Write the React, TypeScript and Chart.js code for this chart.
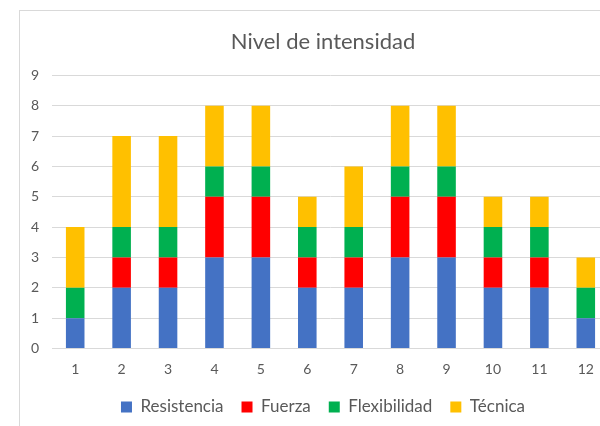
import React, { useEffect, useRef } from "react";
import { Chart, registerables } from "chart.js";

Chart.register(...registerables);

const categories = ["1", "2", "3", "4", "5", "6", "7", "8", "9", "10", "11", "12"];
const resistencia = [1, 2, 2, 3, 3, 2, 2, 3, 3, 2, 2, 1];
const fuerza = [0, 1, 1, 2, 2, 1, 1, 2, 2, 1, 1, 0];
const flexibilidad = [1, 1, 1, 1, 1, 1, 1, 1, 1, 1, 1, 1];
const tecnica = [2, 3, 3, 2, 2, 1, 2, 2, 2, 1, 1, 1];
const titleText = "Nivel de intensidad";

const FONT = "Lato, 'Open Sans', sans-serif";

const borderPlugin = {
  id: "outerBorder",
  beforeDraw(chart: any) {
    const ctx = chart.ctx;
    ctx.save();
    ctx.fillStyle = "#ffffff";
    ctx.fillRect(0, 0, chart.width, chart.height);
    ctx.strokeStyle = "#d9d9d9";
    ctx.lineWidth = 1;
    ctx.strokeRect(19.5, 10.5, chart.width + 20, chart.height + 20);
    ctx.restore();
  },
};

export default function App() {
  const ref = useRef<HTMLCanvasElement>(null);
  useEffect(() => {
    if (!ref.current) return;
    const mk = (label: string, data: number[], color: string) => ({
      label,
      data,
      backgroundColor: color,
      borderWidth: 0,
      barPercentage: 0.4,
      categoryPercentage: 1,
    });
    const chart = new Chart(ref.current, {
      type: "bar",
      data: {
        labels: categories,
        datasets: [
          mk("Resistencia", resistencia, "#4472C4"),
          mk("Fuerza", fuerza, "#FF0000"),
          mk("Flexibilidad", flexibilidad, "#00B050"),
          mk("Técnica", tecnica, "#FFC000"),
        ],
      },
      options: {
        animation: false,
        responsive: false,
        maintainAspectRatio: false,
        layout: { padding: { left: 37, right: 11, top: 20, bottom: 0.5 } },
        plugins: {
          title: {
            display: true,
            text: titleText,
            color: "#595959",
            font: { family: FONT, size: 22, weight: "normal" },
            padding: { top: 9, bottom: 20 },
          },
          legend: {
            position: "bottom",
            labels: {
              color: "#595959",
              font: { family: FONT, size: 17 },
              boxWidth: 11,
              boxHeight: 11,
              padding: 18,
            },
          },
          tooltip: { enabled: false },
        },
        scales: {
          x: {
            stacked: true,
            afterFit: (s: any) => {
              s.height = 32;
            },
            grid: { display: false, drawTicks: false },
            border: { display: true, color: "#d9d9d9" },
            ticks: { color: "#595959", font: { family: FONT, size: 14 }, padding: 13 },
          },
          y: {
            stacked: true,
            min: 0,
            max: 9,
            afterFit: (s: any) => {
              s.width = 15;
            },
            grid: { color: "#d9d9d9", drawTicks: false },
            border: { display: false },
            ticks: {
              stepSize: 1,
              mirror: true,
              color: "#595959",
              font: { family: FONT, size: 14 },
              padding: -21,
            },
          },
        },
      },
      plugins: [borderPlugin],
    });
    return () => chart.destroy();
  }, []);
  return (
    <div style={{ position: "fixed", left: 0, top: 0, width: 620, height: 426, background: "#fff" }}>
      <canvas ref={ref} width={620} height={426} style={{ display: "block", width: 620, height: 426 }} />
    </div>
  );
}
